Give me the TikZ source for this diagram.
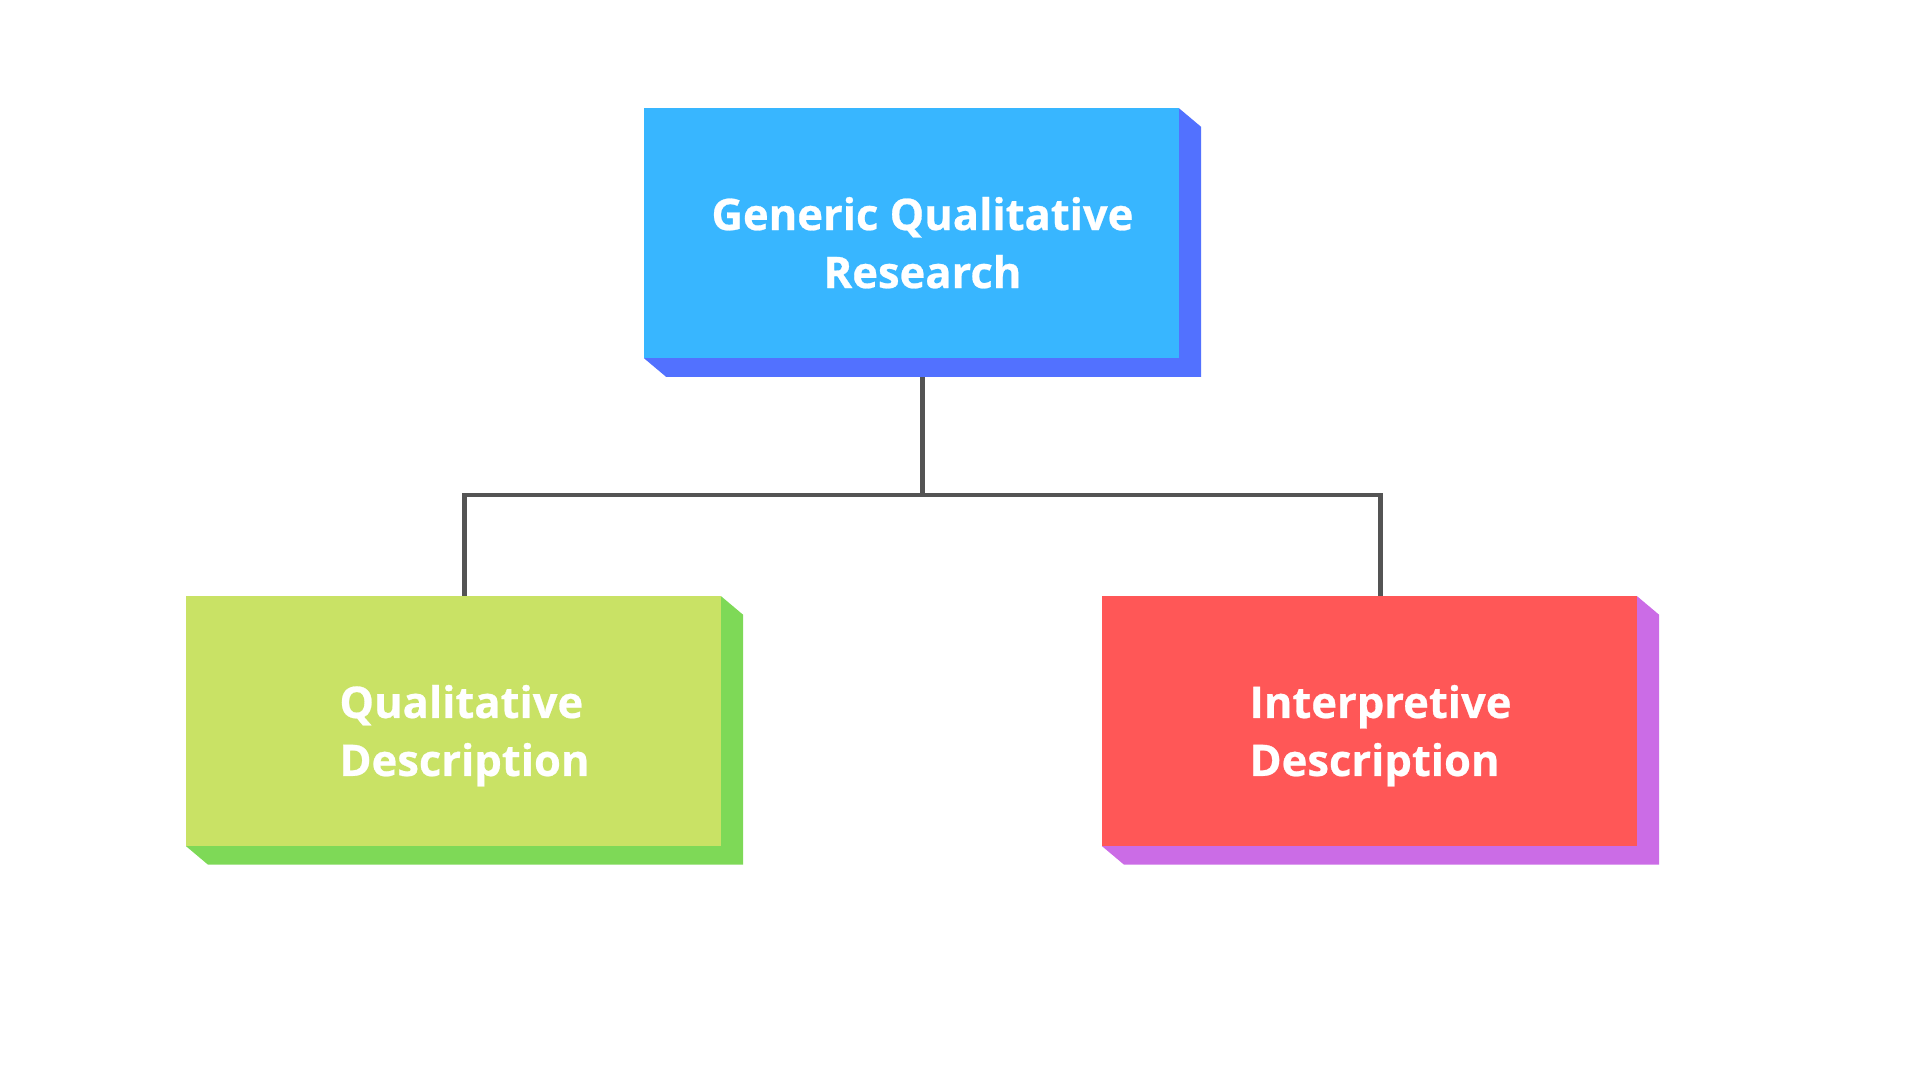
\documentclass[tikz,border=0pt]{standalone}
\usepackage{fontspec}
\setmainfont{Open Sans}[BoldFont={Open Sans Bold}, BoldFeatures={FakeBold=0.6}]
\usetikzlibrary{positioning}

\definecolor{gqrface}{HTML}{38B6FF}
\definecolor{gqrside}{HTML}{5271FF}
\definecolor{qdface}{HTML}{C9E265}
\definecolor{qdside}{HTML}{7ED957}
\definecolor{idface}{HTML}{FF5757}
\definecolor{idside}{HTML}{CB6CE6}
\definecolor{linkgray}{HTML}{545454}

\begin{document}
\begin{tikzpicture}[x=1pt, y=1pt,
    node distance=219pt,
    block/.style 2 args={rectangle, inner sep=0pt, minimum width=557pt, minimum height=268.5pt,
        text=white, font=\fontsize{43.5}{58}\selectfont\bfseries, text depth=0pt,
        path picture={
            \fill[#2] ([xshift=-22pt]path picture bounding box.north east) -- ++(22pt,-18.5pt)
                -- (path picture bounding box.south east) -- ([xshift=22pt]path picture bounding box.south west)
                -- ++(-22pt,18.5pt) -- cycle;
            \fill[#1] (path picture bounding box.north west) rectangle
                ([xshift=-22pt,yshift=18.5pt]path picture bounding box.south east);
        }},
    link/.style={draw=linkgray, line width=4.5pt}]

    \useasboundingbox (0,0) rectangle (1920,-1080);

    % Top level
    \node [block={gqrface}{gqrside}, align=center] (gqr) at (922.5,-242.5) {Generic Qualitative\\Research};

    % Second level
    \node [block={qdface}{qdside}, align=left, below=219pt of gqr, xshift=-458pt] (qd) {Qualitative\\Description};
    \node [block={idface}{idside}, align=left, below=219pt of gqr, xshift=458pt] (id) {Interpretive\\Description};

    % Connections
    \coordinate [below=118pt of gqr.south] (fork);
    \draw [link] (gqr.south) -- (fork);
    \draw [link] (fork) -| (qd.north);
    \draw [link] (fork) -| (id.north);

\end{tikzpicture}
\end{document}
